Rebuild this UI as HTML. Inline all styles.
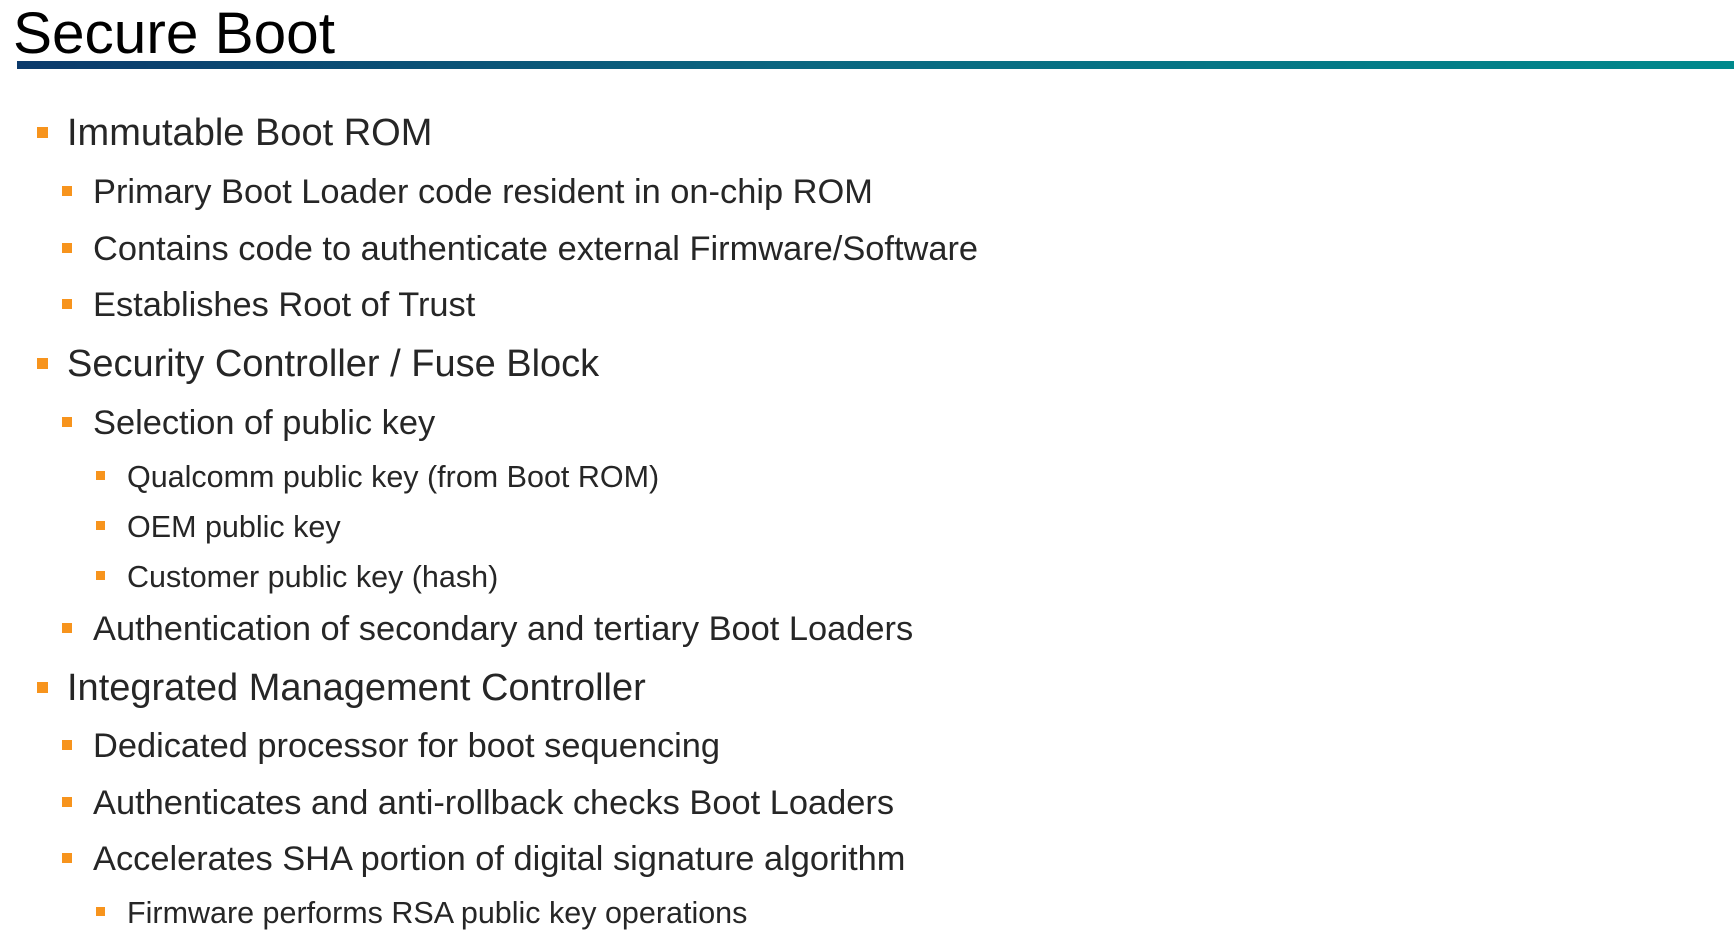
<!DOCTYPE html>
<html><head><meta charset="utf-8"><style>
html,body{margin:0;padding:0;background:#fff;width:1734px;height:945px;overflow:hidden}
svg{display:block}
text{font-family:"Liberation Sans",Arial,sans-serif;fill:#262626}
.l1{font-size:38px}.l2{font-size:34.4px}.l3{font-size:30.5px}
</style></head><body>
<svg width="1734" height="945" viewBox="0 0 1734 945">
<defs><linearGradient id="g" x1="0" x2="1" y1="0" y2="0">
<stop offset="0" stop-color="#0b3a6b"/><stop offset="0.45" stop-color="#0a6680"/><stop offset="1" stop-color="#00898c"/></linearGradient></defs>
<text x="13" y="53" style="font-size:58.5px;fill:#000">Secure Boot</text>
<rect x="17" y="61" width="1717" height="8" fill="url(#g)"/>
<g fill="#f7941d">
<rect x="37" y="127" width="11" height="11"/>
<rect x="62" y="186" width="10" height="10"/>
<rect x="62" y="243" width="10" height="10"/>
<rect x="62" y="299" width="10" height="10"/>
<rect x="37" y="358" width="11" height="11"/>
<rect x="62" y="417" width="10" height="10"/>
<rect x="96" y="471" width="9" height="9"/>
<rect x="96" y="521" width="9" height="9"/>
<rect x="96" y="571" width="9" height="9"/>
<rect x="62" y="623" width="10" height="10"/>
<rect x="37" y="682" width="11" height="11"/>
<rect x="62" y="740" width="10" height="10"/>
<rect x="62" y="797" width="10" height="10"/>
<rect x="62" y="853" width="10" height="10"/>
<rect x="96" y="907" width="9" height="9"/>
</g>
<text class="l1" x="67" y="145">Immutable Boot ROM</text>
<text class="l2" x="93" y="203">Primary Boot Loader code resident in on-chip ROM</text>
<text class="l2" x="93" y="260">Contains code to authenticate external Firmware/Software</text>
<text class="l2" x="93" y="316">Establishes Root of Trust</text>
<text class="l1" x="67" y="376">Security Controller / Fuse Block</text>
<text class="l2" x="93" y="434">Selection of public key</text>
<text class="l3" x="127" y="487">Qualcomm public key (from Boot ROM)</text>
<text class="l3" x="127" y="537">OEM public key</text>
<text class="l3" x="127" y="587">Customer public key (hash)</text>
<text class="l2" x="93" y="640">Authentication of secondary and tertiary Boot Loaders</text>
<text class="l1" x="67" y="700">Integrated Management Controller</text>
<text class="l2" x="93" y="757">Dedicated processor for boot sequencing</text>
<text class="l2" x="93" y="814">Authenticates and anti-rollback checks Boot Loaders</text>
<text class="l2" x="93" y="870">Accelerates SHA portion of digital signature algorithm</text>
<text class="l3" x="127" y="923">Firmware performs RSA public key operations</text>
</svg>
</body></html>
